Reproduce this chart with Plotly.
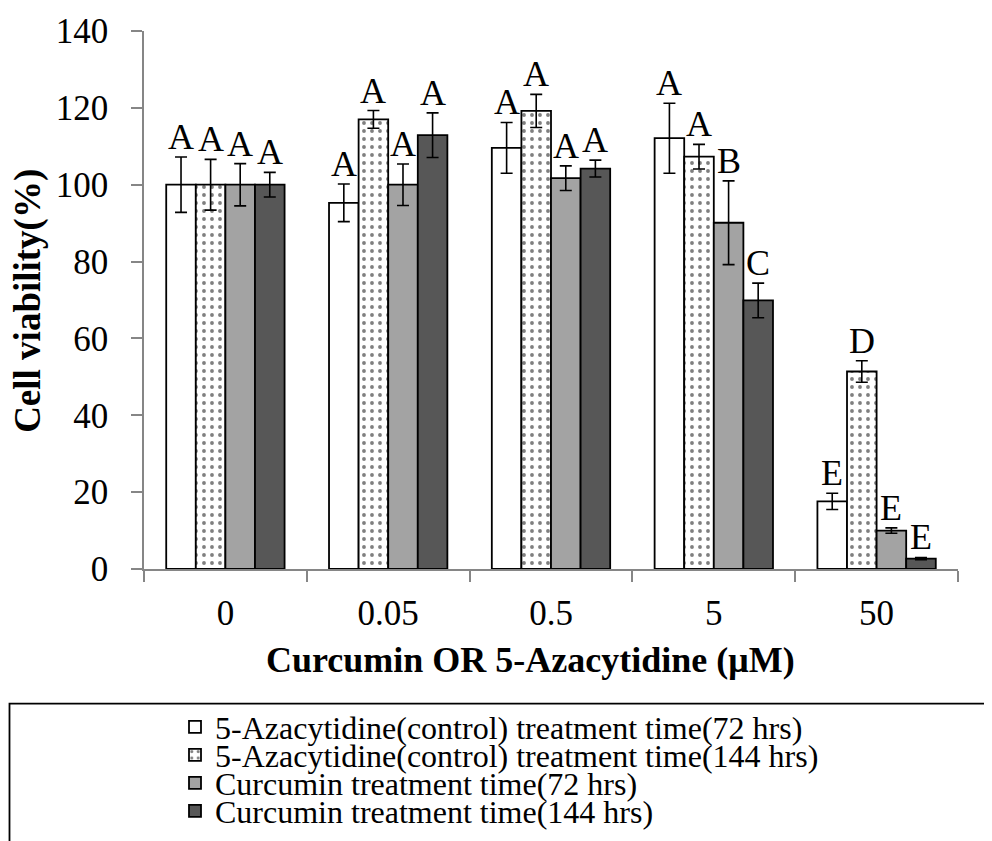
import plotly.graph_objects as go

categories = ["0", "0.05", "0.5", "5", "50"]

series_names = [
    "5-Azacytidine(control) treatment time(72 hrs)",
    "5-Azacytidine(control) treatment time(144 hrs)",
    "Curcumin treatment time(72 hrs)",
    "Curcumin treatment time(144 hrs)",
]

aza72 = [100, 95.3, 109.6, 112.1, 17.6]
aza72_err = [7.2, 4.9, 6.6, 9.1, 2.1]
aza144 = [100, 117.0, 119.2, 107.3, 51.4]
aza144_err = [6.6, 2.3, 4.3, 3.2, 2.8]
cur72 = [100, 100, 101.7, 90.1, 10.0]
cur72_err = [5.5, 5.4, 3.2, 10.9, 0.7]
cur144 = [100, 112.9, 104.2, 69.9, 2.7]
cur144_err = [3.2, 5.8, 2.2, 4.5, 0.3]

aza72_letters = ["A", "A", "A", "A", "E"]
aza144_letters = ["A", "A", "A", "A", "D"]
cur72_letters = ["A", "A", "A", "B", "E"]
cur144_letters = ["A", "A", "A", "C", "E"]

yticks = [0, 20, 40, 60, 80, 100, 120, 140]

values = [aza72, aza144, cur72, cur144]
errors = [aza72_err, aza144_err, cur72_err, cur144_err]
letters = [aza72_letters, aza144_letters, cur72_letters, cur144_letters]

FONT = "Liberation Serif"
OFF = 8  # default page body margin of the written html
W, H = 992 - OFF, 841 - OFF
# plot area in reference window pixels
PLOT_L, PLOT_R, PLOT_T, PLOT_B = 144, 958, 31, 569.3
ML = PLOT_L - OFF
MT = PLOT_T - OFF
MR = W - (PLOT_R - OFF)
MB = H - (PLOT_B - OFF)
PW = PLOT_R - PLOT_L
PH = PLOT_B - PLOT_T
BARGAP = 0.273

fills = ["#ffffff", "#ffffff", "#a3a3a3", "#575757"]
legend_keys = ["legend", "legend2", "legend3", "legend4"]

fig = go.Figure()
for i in range(4):
    marker = dict(color=fills[i], line=dict(color="#000000", width=1.8))
    if i == 1:
        marker["pattern"] = dict(shape=".", fgcolor="#000000", bgcolor="#ffffff",
                                 size=8, solidity=0.18)
    fig.add_trace(go.Bar(
        x=categories, y=values[i], name=series_names[i],
        marker=marker,
        error_y=dict(type="data", array=errors[i], visible=True,
                     color="#000000", thickness=1.6, width=6),
        legend=legend_keys[i],
    ))

# letters above bars (x given as category index, shifted to each bar of the group)
cat_px = PW / len(categories)
bar_px = (1 - BARGAP) * cat_px / 4
for i in range(4):
    for k in range(len(categories)):
        fig.add_annotation(
            x=k, y=values[i][k] + errors[i][k], xref="x", yref="y",
            text=letters[i][k], showarrow=False,
            xshift=(i - 1.5) * bar_px, yanchor="bottom", yshift=-2,
            font=dict(family=FONT, size=36, color="#000000"),
        )

def px_to_paper_x(px):
    return (px - PLOT_L) / PW

def px_to_paper_y(py):
    return (PLOT_B - py) / PH

# axis titles
fig.add_annotation(
    x=px_to_paper_x(530), y=px_to_paper_y(660), xref="paper", yref="paper",
    text="<b>Curcumin OR 5-Azacytidine (μM)</b>", showarrow=False,
    xanchor="center", yanchor="middle",
    font=dict(family=FONT, size=36, color="#000000"),
)
fig.add_annotation(
    x=px_to_paper_x(28), y=px_to_paper_y(301), xref="paper", yref="paper",
    text="<b>Cell viability(%)</b>", showarrow=False, textangle=-90,
    xanchor="center", yanchor="middle",
    font=dict(family=FONT, size=37, color="#000000"),
)

# legend frame
fig.add_shape(type="rect", xref="paper", yref="paper",
              x0=px_to_paper_x(9.5), x1=px_to_paper_x(1010),
              y0=px_to_paper_y(860), y1=px_to_paper_y(704),
              line=dict(color="#000000", width=1.8), fillcolor="rgba(0,0,0,0)",
              layer="below")

row_centers = [727, 755, 783, 811]
layout_legends = {}
for i, key in enumerate(legend_keys):
    layout_legends[key] = dict(
        xref="container", yref="container",
        x=(175 - OFF) / W, xanchor="left",
        y=1 - (row_centers[i] - OFF) / H, yanchor="middle",
        font=dict(family=FONT, size=32, color="#000000"),
        bgcolor="rgba(0,0,0,0)", borderwidth=0,
    )

fig.update_layout(
    width=W, height=H,
    margin=dict(l=ML, r=MR, t=MT, b=MB, autoexpand=False),
    paper_bgcolor="#ffffff", plot_bgcolor="#ffffff",
    barmode="group", bargap=BARGAP, bargroupgap=0,
    showlegend=True,
    font=dict(family=FONT, size=32, color="#000000"),
    xaxis=dict(
        type="category", range=[-0.5, len(categories) - 0.5],
        showline=True, linecolor="#868686", linewidth=1.5,
        ticks="outside", tickson="boundaries", ticklen=11, tickwidth=1.5,
        tickcolor="#868686", showgrid=False, ticklabelstandoff=12,
        tickangle=0,
        tickfont=dict(family=FONT, size=35, color="#000000"),
    ),
    yaxis=dict(
        range=[0, 140], tickvals=yticks, showline=True, linecolor="#868686",
        linewidth=1.5, ticks="outside", ticklen=11, tickwidth=1.5,
        tickcolor="#868686", showgrid=False, zeroline=False,
        ticklabelstandoff=16,
        tickfont=dict(family=FONT, size=35, color="#000000"),
    ),
    **layout_legends,
)

fig.write_html("out.html")
